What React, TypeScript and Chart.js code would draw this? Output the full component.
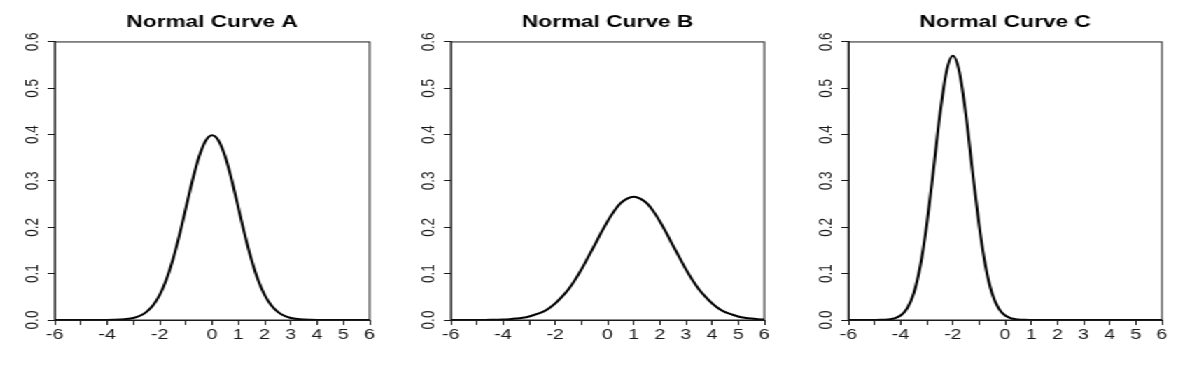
import React, { useEffect, useRef } from "react";
import { Chart, registerables } from "chart.js";

Chart.register(...registerables);

// x grid shared by all three curves
const xValues = [
  -6, -5.75, -5.5, -5.25, -5, -4.75, -4.5, -4.25, -4, -3.75, -3.5, -3.25, -3,
  -2.75, -2.5, -2.25, -2, -1.75, -1.5, -1.25, -1, -0.75, -0.5, -0.25, 0,
  0.25, 0.5, 0.75, 1, 1.25, 1.5, 1.75, 2, 2.25, 2.5, 2.75, 3, 3.25, 3.5,
  3.75, 4, 4.25, 4.5, 4.75, 5, 5.25, 5.5, 5.75, 6,
];

const curveA = [
  0, 0, 0, 0, 0, 0, 0, 0, 0.0001, 0.0004, 0.0009, 0.002, 0.0044,
  0.0091, 0.0175, 0.0317, 0.054, 0.0863, 0.1295, 0.1826, 0.242, 0.3011, 0.3521, 0.3867, 0.3989,
  0.3867, 0.3521, 0.3011, 0.242, 0.1826, 0.1295, 0.0863, 0.054, 0.0317, 0.0175, 0.0091, 0.0044, 0.002, 0.0009,
  0.0004, 0.0001, 0, 0, 0, 0, 0, 0, 0, 0,
];

const curveB = [
  0, 0, 0, 0, 0.0001, 0.0002, 0.0003, 0.0006, 0.001, 0.0018, 0.003, 0.0048, 0.0076,
  0.012, 0.017, 0.025, 0.036, 0.05, 0.066, 0.086, 0.109, 0.135, 0.161, 0.188, 0.213,
  0.235, 0.252, 0.262, 0.266, 0.262, 0.252, 0.235, 0.213, 0.188, 0.161, 0.135, 0.109, 0.086, 0.066,
  0.05, 0.036, 0.025, 0.017, 0.012, 0.0076, 0.0048, 0.003, 0.0018, 0.001,
];

const curveC = [
  0, 0, 0, 0, 0.0001, 0.0003, 0.001, 0.0033, 0.0096, 0.025, 0.057, 0.116, 0.206,
  0.321, 0.442, 0.535, 0.57, 0.535, 0.442, 0.321, 0.206, 0.116, 0.057, 0.025, 0.0096,
  0.0033, 0.001, 0.0003, 0.0001, 0, 0, 0, 0, 0, 0, 0, 0, 0, 0,
  0, 0, 0, 0, 0, 0, 0, 0, 0, 0,
];

const panelTitles = ["Normal Curve A", "Normal Curve B", "Normal Curve C"];
const panelCurves = [curveA, curveB, curveC];
const xTickLabels = ["-6", "-4", "-2", "0", "1", "2", "3", "4", "5", "6"];
const yTickLabels = ["0.0", "0.1", "0.2", "0.3", "0.4", "0.5", "0.6"];

// layout (reference pixels are horizontally stretched by S)
const S = 1.4;
const PLOT_LEFT = [54, 451, 848];
const PLOT_RIGHT = [369, 765, 1162];
const Y_AXIS_W = 38;
const RIGHT_PAD = 12;
const X_AXIS_H = 52;
const H = 372;
const INK = "#1a1a1a";
const FONT = "'Liberation Sans', Arial, Helvetica, sans-serif";

const boxPlugin = {
  id: "rBox",
  afterDraw(chart: any) {
    const { ctx, chartArea: a } = chart;
    ctx.save();
    ctx.strokeStyle = INK;
    ctx.lineWidth = 1;
    ctx.strokeRect(a.left, a.top, a.right - a.left, a.bottom - a.top);
    ctx.restore();
  },
};

function Panel({ idx }: { idx: number }) {
  const ref = useRef<HTMLCanvasElement | null>(null);
  const plotW = (PLOT_RIGHT[idx] - PLOT_LEFT[idx]) / S;
  const width = Math.round(plotW + Y_AXIS_W + RIGHT_PAD);
  const left = PLOT_LEFT[idx] / S - Y_AXIS_W;

  useEffect(() => {
    const values = panelCurves[idx];
    const chart = new Chart(ref.current as HTMLCanvasElement, {
      type: "line",
      data: {
        datasets: [
          {
            data: xValues.map((x, i) => ({ x, y: values[i] })),
            borderColor: "#000",
            borderWidth: 2,
            pointRadius: 0,
            fill: false,
            cubicInterpolationMode: "monotone",
          },
        ],
      },
      options: {
        animation: false,
        responsive: false,
        events: [],
        layout: { padding: { left: 0, right: RIGHT_PAD, top: 0, bottom: 0 } },
        plugins: {
          legend: { display: false },
          tooltip: { enabled: false },
          title: {
            display: true,
            text: panelTitles[idx],
            fullSize: false,
            color: "#000",
            font: { family: FONT, size: 16.2, weight: "bold" },
            padding: { top: 12.5, bottom: 10 },
          },
        },
        scales: {
          x: {
            type: "linear",
            min: -6,
            max: 6,
            afterFit: (scale: any) => {
              scale.height = X_AXIS_H;
            },
            ticks: {
              stepSize: 1,
              autoSkip: false,
              maxRotation: 0,
              minRotation: 0,
              padding: 2,
              color: INK,
              font: { family: FONT, size: 14 },
              callback: (v: any) => {
                const s = String(v);
                return xTickLabels.includes(s) ? s : "";
              },
            },
            grid: {
              drawOnChartArea: false,
              drawTicks: true,
              tickLength: 5,
              color: INK,
              lineWidth: 1,
            },
            border: { display: true, color: INK, width: 1 },
          },
          y: {
            type: "linear",
            min: 0,
            max: 0.6,
            afterFit: (scale: any) => {
              scale.width = Y_AXIS_W;
            },
            ticks: {
              stepSize: 0.1,
              autoSkip: false,
              minRotation: 90,
              maxRotation: 90,
              crossAlign: "center",
              padding: 1,
              color: INK,
              font: { family: FONT, size: 13.5 },
              callback: (_v: any, i: number) => yTickLabels[i] ?? "",
            },
            grid: {
              drawOnChartArea: false,
              drawTicks: true,
              tickLength: 5,
              color: INK,
              lineWidth: 1,
            },
            border: { display: true, color: INK, width: 1 },
          },
        },
      } as any,
      plugins: [boxPlugin],
    });
    return () => chart.destroy();
  }, [idx]);

  return (
    <canvas
      ref={ref}
      width={width}
      height={H}
      style={{ position: "absolute", left, top: 0, width, height: H, display: "block" }}
    />
  );
}

export default function App() {
  return (
    <div
      style={{
        position: "absolute",
        left: 0,
        top: 0,
        width: 1190 / S,
        height: H,
        transform: `scaleX(${S})`,
        transformOrigin: "0 0",
        background: "#fff",
      }}
    >
      {[0, 1, 2].map((i) => (
        <Panel key={i} idx={i} />
      ))}
    </div>
  );
}
